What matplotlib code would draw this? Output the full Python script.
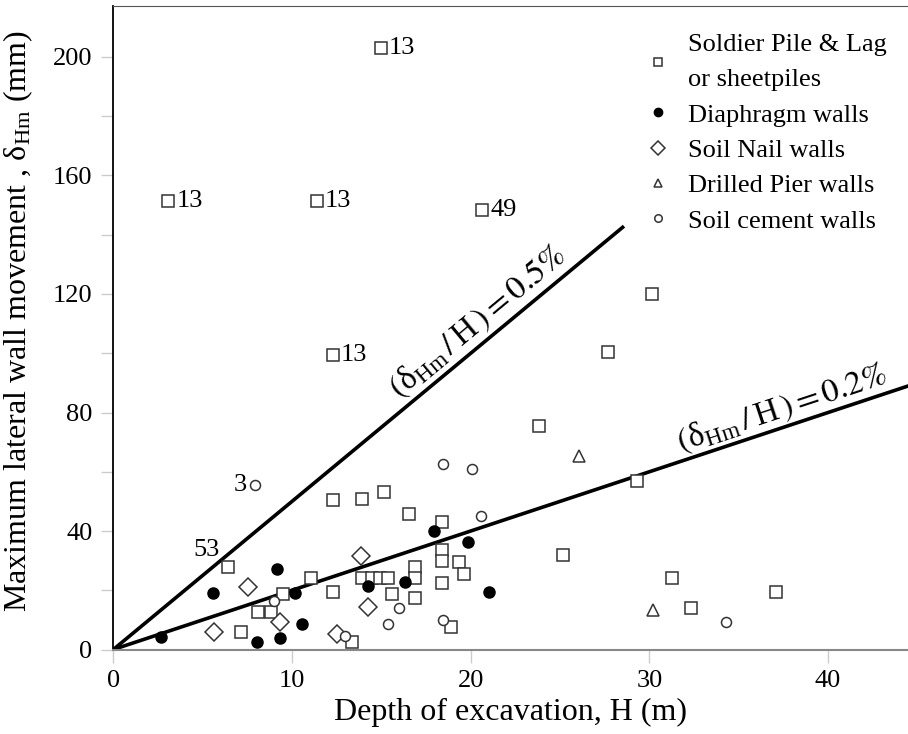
import numpy as np
import matplotlib
matplotlib.use('Agg')
import matplotlib.pyplot as plt
from matplotlib.ticker import MultipleLocator

plt.rcParams['font.family'] = ['Liberation Serif', 'DejaVu Serif']
plt.rcParams['mathtext.fontset'] = 'stix'

# Soldier Pile & Lag or sheetpiles (H m, delta mm)
sp_H = [3.08, 11.38, 14.96, 20.65, 12.28, 30.16, 27.7, 23.84, 29.32, 12.31, 13.92, 15.13,
        16.57, 18.41, 18.41, 18.41, 19.35, 19.65, 18.41, 18.9, 25.17, 31.27, 32.35, 37.08,
        6.4, 9.51, 8.12, 8.82, 11.06, 12.31, 13.92, 14.46, 14.93, 15.36, 15.58, 16.88,
        16.88, 16.88, 7.13, 13.34]
sp_d = [151.4, 151.4, 202.9, 148.4, 99.4, 119.9, 100.5, 75.5, 56.9, 50.5, 50.7, 53.3,
        45.7, 42.9, 33.7, 29.9, 29.6, 25.5, 22.5, 7.6, 31.8, 24.2, 14.1, 19.4,
        27.9, 18.7, 12.6, 12.6, 24.0, 19.5, 24.0, 24.0, 24.0, 24.0, 18.6, 27.9,
        24.0, 17.3, 5.8, 2.6]

# Diaphragm walls
dw_H = [2.67, 5.6, 9.18, 8.02, 9.33, 10.19, 10.58, 14.27, 16.32, 17.95, 19.87, 21.02]
dw_d = [4.3, 19.2, 27.1, 2.4, 4.0, 19.2, 8.6, 21.4, 22.7, 40.1, 36.4, 19.4]

# Soil Nail walls
sn_H = [5.63, 7.56, 9.33, 12.5, 13.84, 14.27]
sn_d = [5.8, 21.0, 9.2, 5.2, 31.6, 14.5]

# Drilled Pier walls
dp_H = [26.07, 30.22]
dp_d = [65.3, 13.3]

# Soil cement walls
sc_H = [7.93, 8.99, 12.97, 15.36, 16.0, 18.45, 18.43, 20.05, 20.6, 34.29]
sc_d = [55.5, 16.4, 4.7, 8.6, 13.9, 10.0, 62.6, 60.8, 44.9, 9.2]

# numbered cases (H, delta, text)
notes_H = [3.08, 11.38, 14.96, 20.65, 12.28]
notes_d = [151.4, 151.4, 202.9, 148.4, 99.4]
notes_txt = ['13', '13', '13', '49', '13']

fig = plt.figure(figsize=(9.08, 7.34), dpi=100)
ax = fig.add_axes([0.1248, 0.1151, 0.8752, 0.8767])

# guide lines delta/H
H05 = np.array([0, 28.5])
H02 = np.array([0, 44.5])
ax.plot(H05, 0.005 * H05 * 1000, color='k', lw=2.6, zorder=1)
ax.plot(H02, 0.002 * H02 * 1000, color='k', lw=2.6, zorder=1)

ax.plot(sp_H, sp_d, 's', ms=8.5, mfc='white', mec='#333333', mew=1.1, ls='none', zorder=3,
        label='Soldier Pile & Lag\nor sheetpiles')
ax.plot(dw_H, dw_d, 'o', ms=8, mfc='black', mec='black', ls='none', zorder=3,
        label='Diaphragm walls')
ax.plot(sn_H, sn_d, 'D', ms=9.2, mfc='white', mec='#333333', mew=1.1, ls='none', zorder=3,
        label='Soil Nail walls')
ax.plot(dp_H, dp_d, '^', ms=8, mfc='white', mec='#333333', mew=1.1, ls='none', zorder=3,
        label='Drilled Pier walls')
ax.plot(sc_H, sc_d, 'o', ms=7.2, mfc='white', mec='#333333', mew=1.1, ls='none', zorder=3,
        label='Soil cement walls')

for h, d, t in zip(notes_H, notes_d, notes_txt):
    ax.text(h + 0.45, d, t, fontsize=19, ha='left', va='center')
ax.text(5.2, 33.6, '53', fontsize=19, ha='center', va='center')
ax.text(7.45, 55.5, '3', fontsize=19, ha='right', va='center')

ax.text(20.4, 110.7, r'$(\mathregular{\delta}_{\mathregular{Hm}}\,/\,\mathregular{H}\,) = 0.5\%$',
        fontsize=24, rotation=39.7, rotation_mode='anchor', ha='center', va='center')
ax.text(37.4, 81.2, r'$(\mathregular{\delta}_{\mathregular{Hm}}\,/\,\mathregular{H}\,) = 0.2\%$',
        fontsize=24, rotation=18.3, rotation_mode='anchor', ha='center', va='center')

ax.set_xlim(0, 44.47)
ax.set_ylim(0, 217.2)
ax.xaxis.set_major_locator(MultipleLocator(10))
ax.yaxis.set_major_locator(MultipleLocator(40))
ax.yaxis.set_minor_locator(MultipleLocator(20))
ax.tick_params(axis='both', which='both', direction='out', length=9, width=1,
               color='#cccccc', labelsize=19, pad=6)

ax.spines['right'].set_visible(False)
ax.spines['left'].set_color('black')
ax.spines['left'].set_linewidth(1.3)
ax.spines['top'].set_color('#555555')
ax.spines['bottom'].set_color('#888888')
ax.spines['bottom'].set_linewidth(1.5)

ax.set_xlabel('Depth of excavation, H (m)', fontsize=23, labelpad=4)
ax.set_ylabel(r'Maximum lateral wall movement , $\mathregular{\delta}_{\mathregular{Hm}}$ (mm)', fontsize=23)
ax.yaxis.set_label_coords(-0.098, 0.51)

leg = ax.legend(loc='upper left', bbox_to_anchor=(0.635, 0.994), frameon=False, fontsize=19,
                markerscale=0.75, handlelength=1.2, handletextpad=0.54, labelspacing=0.45)
for t in leg.get_texts():
    t.set_linespacing(1.8)

fig.savefig('out.png', dpi=100)
